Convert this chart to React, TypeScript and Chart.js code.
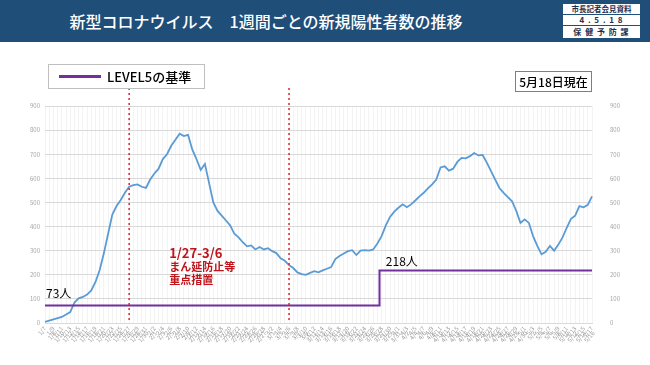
import React, { useEffect, useRef } from "react";
import { Chart, registerables } from "chart.js";

Chart.register(...registerables);

// ---- data ----
const startMonthDay: [number, number] = [1, 7];
const monthLengths = [31, 28, 31, 30, 31];

function buildDates(count: number): string[] {
  const out: string[] = [];
  let m = startMonthDay[0];
  let d = startMonthDay[1];
  for (let i = 0; i < count; i++) {
    out.push(`${m}/${d}`);
    d++;
    if (d > monthLengths[m - 1]) {
      d = 1;
      m++;
    }
  }
  return out;
}

const weeklyCases = [
  5, 10, 15, 20, 25, 35, 45, 85, 102, 108,
  118, 135, 170, 220, 290, 370, 450, 485, 510, 540,
  565, 572, 575, 565, 560, 595, 620, 640, 680, 700,
  735, 760, 785, 775, 780, 720, 680, 635, 660, 580,
  500, 465, 445, 425, 405, 370, 355, 335, 318, 322,
  305, 315, 305, 310, 298, 290, 268, 258, 240, 228,
  210, 203, 200, 208, 215, 210, 218, 225, 232, 265,
  278, 288, 298, 302, 282, 300, 302, 300, 305, 330,
  360, 405, 440, 462, 478, 492, 480, 492, 508, 525,
  540, 558, 575, 595, 645, 650, 632, 640, 668, 685,
  683, 692, 705, 695, 697, 665, 630, 595, 560, 540,
  522, 505, 465, 415, 430, 415, 360, 320, 285, 295,
  320, 300, 325, 355, 395, 432, 445, 485, 480, 490,
  525,
];

const dateLabels = buildDates(weeklyCases.length);

const levelBefore = 73;
const levelAfter = 218;
const levelChangeDate = "3/27";
const levelSeries = dateLabels.map((_, i) =>
  i <= dateLabels.indexOf(levelChangeDate) ? levelBefore : levelAfter
);

const measureStart = "1/27";
const measureEnd = "3/6";
const yTicks = [0, 100, 200, 300, 400, 500, 600, 700, 800, 900];

const titleText = "新型コロナウイルス　1週間ごとの新規陽性者数の推移";
const legendText = "LEVEL5の基準";
const asOfText = "5月18日現在";
const measureLines = ["1/27-3/6", "まん延防止等", "重点措置"];
const badgeLines = ["市長記者会見資料", "4 . 5 . 1 8", "保 健 予 防 課"];

const FONT = "'Noto Sans CJK JP', 'Noto Sans', sans-serif";

const annotationPlugin = {
  id: "annot",
  afterDatasetsDraw(chart: any) {
    const { ctx, chartArea, scales } = chart;
    const x = scales.x;
    const y = scales.y;
    ctx.save();
    // red dashed vertical lines
    ctx.strokeStyle = "#e0202a";
    ctx.lineWidth = 1.5;
    ctx.setLineDash([2, 3]);
    [measureStart, measureEnd].forEach((lab) => {
      const px = x.getPixelForValue(dateLabels.indexOf(lab));
      ctx.beginPath();
      ctx.moveTo(px, chartArea.top - 18);
      ctx.lineTo(px, chartArea.bottom);
      ctx.stroke();
    });
    ctx.setLineDash([]);
    // level labels
    ctx.fillStyle = "#000";
    ctx.font = `12px ${FONT}`;
    ctx.textBaseline = "middle";
    ctx.textAlign = "left";
    ctx.fillText(`${levelBefore}人`, chartArea.left + 1, y.getPixelForValue(levelBefore) - 12);
    const idx = dateLabels.indexOf(levelChangeDate) + 2;
    ctx.fillText(`${levelAfter}人`, x.getPixelForValue(idx), y.getPixelForValue(levelAfter) - 9);
    // measure text
    ctx.fillStyle = "#c0141c";
    const mx = x.getPixelForValue(dateLabels.indexOf(measureStart)) + 40;
    const my = y.getPixelForValue(290);
    ctx.font = `bold 13px ${FONT}`;
    ctx.fillText(measureLines[0], mx, my);
    ctx.font = `bold 11px ${FONT}`;
    ctx.fillText(measureLines[1], mx, my + 14);
    ctx.fillText(measureLines[2], mx, my + 27);
    ctx.restore();
  },
};

export default function App() {
  const canvasRef = useRef<HTMLCanvasElement | null>(null);

  useEffect(() => {
    document.body.style.margin = "0";
    const canvas = canvasRef.current;
    if (!canvas) return;
    const chart = new Chart(canvas, {
      type: "line",
      data: {
        labels: dateLabels,
        datasets: [
          {
            label: legendText,
            data: levelSeries,
            borderColor: "#7030a0",
            borderWidth: 2,
            pointRadius: 0,
            stepped: "middle",
            fill: false,
          },
          {
            label: "新規陽性者数",
            data: weeklyCases,
            borderColor: "#5b9bd5",
            borderWidth: 1.8,
            pointRadius: 0,
            tension: 0,
            fill: false,
          },
        ],
      },
      options: {
        animation: false,
        responsive: false,
        maintainAspectRatio: false,
        layout: { padding: { left: 25, right: 28, top: 106, bottom: 6 } },
        plugins: { legend: { display: false }, tooltip: { enabled: false } },
        scales: {
          x: {
            offset: false,
            grid: { color: "#f3f3f3", drawTicks: false },
            border: { display: true, color: "#d9d9d9" },
            afterFit: (s: any) => {
              s.height = 36;
            },
            ticks: {
              autoSkip: false,
              maxRotation: 50,
              minRotation: 50,
              padding: 2,
              color: "#9a9a9a",
              font: { size: 6, family: FONT },
              callback: (_v: any, i: number) =>
                i % 2 === 0 ? dateLabels[i] : ["", dateLabels[i]],
            },
          },
          y: {
            position: "left",
            min: 0,
            max: 900,
            afterBuildTicks: (s: any) => {
              s.ticks = yTicks.map((v) => ({ value: v }));
            },
            afterFit: (s: any) => {
              s.width = 20;
            },
            grid: { color: "#d9d9d9", drawTicks: false },
            border: { display: false },
            ticks: {
              padding: 5,
              color: "#a6a6a6",
              font: { size: 6, family: FONT },
            },
          },
          y2: {
            position: "right",
            min: 0,
            max: 900,
            afterBuildTicks: (s: any) => {
              s.ticks = yTicks.map((v) => ({ value: v }));
            },
            afterFit: (s: any) => {
              s.width = 30;
            },
            grid: { display: false },
            border: { display: false },
            ticks: {
              padding: 10,
              color: "#a6a6a6",
              font: { size: 6, family: FONT },
            },
          },
        },
      },
      plugins: [annotationPlugin],
    });
    return () => chart.destroy();
  }, []);

  return (
    <div
      style={{
        position: "relative",
        width: 650,
        height: 365,
        background: "#fff",
        overflow: "hidden",
        fontFamily: FONT,
      }}
    >
      <canvas
        ref={canvasRef}
        width={650}
        height={365}
        style={{ position: "absolute", left: 0, top: 0, width: 650, height: 365 }}
      />
      <div
        style={{
          position: "absolute",
          left: 0,
          top: 0,
          width: 650,
          height: 42,
          background: "#1f4e79",
        }}
      />
      <div
        style={{
          position: "absolute",
          left: 0,
          top: 0,
          width: 532,
          height: 42,
          lineHeight: "42px",
          textAlign: "center",
          color: "#fff",
          fontSize: 16,
          fontWeight: 500,
          whiteSpace: "nowrap",
        }}
      >
        {titleText}
      </div>
      <div
        style={{
          position: "absolute",
          left: 563,
          top: 4,
          width: 77,
          height: 34,
          background: "#fff",
          color: "#1f2f4f",
          textAlign: "center",
          fontWeight: 700,
          whiteSpace: "nowrap",
        }}
      >
        {badgeLines.map((t, i) => (
          <div
            key={i}
            style={{
              height: i < 2 ? 10 : 12,
              lineHeight: i < 2 ? "10px" : "12px",
              fontSize: i === 0 ? 7.5 : 8,
              borderBottom: i < 2 ? "1px solid #1f4e79" : "none",
              letterSpacing: i === 0 ? 0 : 1,
            }}
          >
            {t}
          </div>
        ))}
      </div>
      <div
        style={{
          position: "absolute",
          left: 48,
          top: 64,
          width: 157,
          height: 25,
          border: "1px solid #bfbfbf",
          background: "#fff",
          boxSizing: "border-box",
        }}
      >
        <div
          style={{
            position: "absolute",
            left: 10,
            top: 10,
            width: 42,
            height: 3,
            background: "#7030a0",
          }}
        />
        <div
          style={{
            position: "absolute",
            left: 58,
            top: 0,
            lineHeight: "23px",
            fontSize: 13,
            fontWeight: 500,
            color: "#000",
            whiteSpace: "nowrap",
          }}
        >
          {legendText}
        </div>
      </div>
      <div
        style={{
          position: "absolute",
          left: 515,
          top: 71,
          width: 77,
          height: 21,
          border: "1px solid #7f7f7f",
          background: "#fff",
          boxSizing: "border-box",
          fontSize: 12,
          fontWeight: 500,
          lineHeight: "19px",
          textAlign: "center",
          color: "#000",
        }}
      >
        {asOfText}
      </div>
    </div>
  );
}
